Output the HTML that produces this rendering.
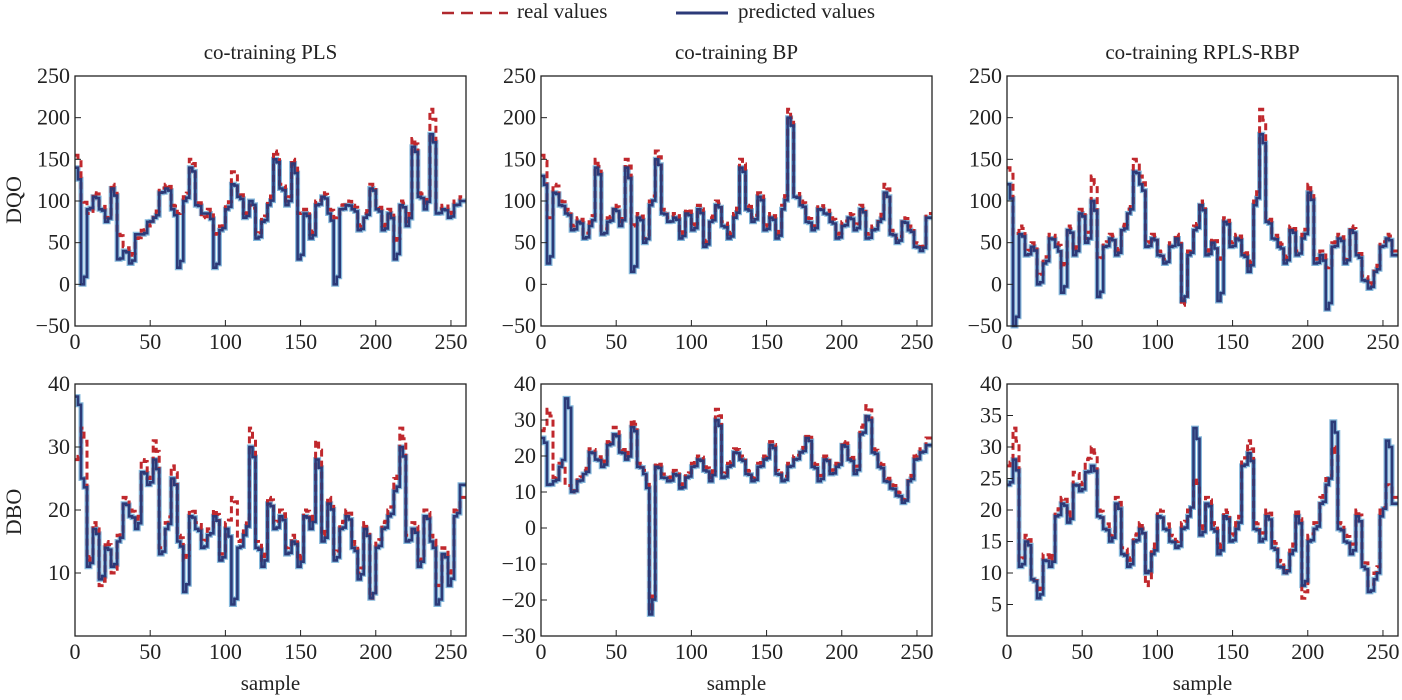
<!DOCTYPE html>
<html><head><meta charset="utf-8"><style>
body{margin:0;background:#fff;width:1402px;height:695px;overflow:hidden}
svg{font-family:"Liberation Serif",serif}
</style></head><body>
<svg id="c" width="1402" height="695"></svg>
<script>
const xTicks=[0,50,100,150,200,250];
const step=4;
const titles=["co-training PLS","co-training BP","co-training RPLS-RBP"];
const dqoTicks=[-50,0,50,100,150,200,250];
const dbo1Ticks=[10,20,30,40];
const dbo2Ticks=[-30,-20,-10,0,10,20,30,40];
const dbo3Ticks=[5,10,15,20,25,30,35,40];
const realA=[155,100,85,110,95,80,120,60,45,35,55,65,70,85,115,120,95,85,105,150,100,80,90,60,70,95,135,110,85,95,60,80,100,160,120,100,150,85,90,60,100,110,90,80,95,100,95,70,85,120,95,70,90,50,100,75,175,110,95,210,90,95,85,100,105];
const predA=[140,0,90,105,90,75,115,30,40,25,60,60,75,80,110,115,90,20,100,140,95,85,85,20,65,90,120,105,80,100,55,75,95,150,115,95,145,30,85,55,95,105,85,0,90,95,90,65,80,115,90,65,85,30,95,70,165,105,90,180,85,90,80,95,100];
const realB=[155,80,120,100,90,70,80,60,75,150,65,80,95,75,150,70,85,55,100,160,90,80,85,60,90,70,95,50,80,100,75,60,85,150,95,80,110,70,85,60,95,210,110,100,80,70,95,90,80,60,75,85,70,95,60,70,80,120,65,55,80,70,50,45,85];
const predB=[130,25,110,95,85,65,75,55,70,140,60,75,90,70,140,15,80,50,95,150,85,75,80,55,85,65,90,45,75,95,70,55,80,140,90,75,105,65,80,55,90,200,105,95,75,65,90,85,75,55,70,80,65,90,55,65,75,110,60,50,75,65,45,40,80];
const realC=[140,60,70,40,50,10,30,60,50,20,70,40,90,55,130,30,50,60,40,70,90,150,130,50,60,40,30,50,60,-25,40,70,100,40,55,30,80,50,60,40,20,100,210,80,60,50,30,70,40,60,120,30,40,20,50,60,30,70,40,10,0,20,50,60,40];
const predC=[120,-50,60,35,45,0,25,55,45,-10,65,35,85,50,100,-15,45,55,35,65,85,135,120,45,55,35,25,45,55,-20,35,65,95,35,50,-20,75,45,55,35,15,95,180,75,55,45,25,65,35,55,110,25,35,-30,45,55,25,65,35,5,-5,15,45,55,35];
const realD=[28,33,12,18,8,15,10,16,22,20,18,28,25,31,14,18,27,16,12,20,18,15,17,20,13,18,22,15,17,33,15,12,22,18,20,14,16,12,20,18,31,16,22,13,18,20,15,10,18,6,15,18,20,25,33,16,18,12,20,16,8,14,10,20,22];
const predD=[38,25,11,17,9,14,11,15,21,19,17,26,24,28,13,17,25,15,7,19,17,14,16,19,12,17,5,14,16,30,14,11,21,17,19,13,15,11,19,17,28,15,21,12,17,19,14,9,17,6,14,17,19,23,30,15,17,11,19,15,5,13,8,19,24];
const realE=[27,33,14,18,12,10,14,16,22,20,18,24,28,22,20,30,18,16,-23,18,15,14,16,12,15,18,20,17,14,33,15,18,22,20,16,14,18,20,24,16,14,18,20,22,26,18,14,20,16,18,24,20,16,28,34,22,18,14,12,10,8,14,20,22,25];
const predE=[25,12,13,17,36,10,13,15,21,19,17,23,26,21,19,28,17,15,-24,17,14,13,15,11,14,17,19,16,13,30,14,17,21,19,15,13,17,19,23,15,13,17,19,21,25,17,13,19,15,17,23,19,15,26,31,21,17,13,11,9,7,13,19,21,23];
const realF=[27,33,12,16,9,7,13,12,20,22,19,26,24,28,30,20,18,16,22,14,12,16,18,8,14,20,18,16,15,18,20,25,17,22,18,14,20,16,18,28,31,18,16,20,15,12,10,14,20,6,16,18,22,25,30,18,16,14,20,12,8,10,20,24,22];
const predF=[24,28,11,15,9,6,12,11,19,21,18,24,23,26,27,19,17,15,21,13,11,15,17,10,13,19,17,15,14,17,19,33,16,21,17,13,19,15,17,27,29,17,15,19,14,11,10,13,19,8,15,17,21,24,34,17,15,13,19,11,7,9,19,31,21];
const panels=[
 {l:75,t:76,b:326,min:-50,max:250,ticks:dqoTicks,real:realA,pred:predA,n:"dqo-pls"},
 {l:541,t:76,b:326,min:-50,max:250,ticks:dqoTicks,real:realB,pred:predB,n:"dqo-bp"},
 {l:1007,t:76,b:326,min:-50,max:250,ticks:dqoTicks,real:realC,pred:predC,n:"dqo-rpls-rbp"},
 {l:75,t:384,b:636,min:0,max:40,ticks:dbo1Ticks,real:realD,pred:predD,n:"dbo-pls"},
 {l:541,t:384,b:636,min:-30,max:40,ticks:dbo2Ticks,real:realE,pred:predE,n:"dbo-bp"},
 {l:1007,t:384,b:636,min:0,max:40,ticks:dbo3Ticks,real:realF,pred:predF,n:"dbo-rpls-rbp"}];
const W=391,NS="http://www.w3.org/2000/svg",svg=document.getElementById("c");
function mk(tag,at,parent,txt){const e=document.createElementNS(NS,tag);for(const k in at)e.setAttribute(k,at[k]);if(txt!==undefined)e.textContent=txt;(parent||svg).appendChild(e);return e;}
panels.forEach((p,pi)=>{
 const g=mk("g",{});
 
 
 const xs=v=>p.l+v*(W/260), ys=v=>p.b-(v-p.min)/(p.max-p.min)*(p.b-p.t);
 // staircase: each value held over its sample window, with a mid-window dip to neighbour mean for texture
 const pts=a=>{let s=[];a.forEach((v,i)=>{const x0=xs(i*step),x1=xs(Math.min((i+1)*step,260));
   const y=ys(v);s.push(x0.toFixed(1)+","+y.toFixed(1));
   const nb=i+1<a.length?a[i+1]:v;const xm=(x0+x1)/2;
   s.push(xm.toFixed(1)+","+y.toFixed(1));
   s.push(xm.toFixed(1)+","+ys((v+nb)/2+(v-nb)*0.4).toFixed(1));
   s.push(x1.toFixed(1)+","+ys((v+nb)/2+(v-nb)*0.4).toFixed(1));});return s.join(" ");};
 const lb=mk("polyline",{points:pts(p.pred),fill:"none",stroke:"#86b9dc","stroke-width":5},g);
 
 
 const rl=mk("polyline",{points:pts(p.real),fill:"none",stroke:"#c0282d","stroke-width":3,"stroke-dasharray":"7,4"},g);
 
 
 const pl=mk("polyline",{points:pts(p.pred),fill:"none",stroke:"#2c3a78","stroke-width":2.6},g);
 
 
 const fr=mk("rect",{x:p.l,y:p.t,width:W,height:p.b-p.t,fill:"none",stroke:"#222","stroke-width":1.3},g);
 
 
 p.ticks.forEach(v=>{const y=ys(v);
  mk("line",{x1:p.l,x2:p.l+6,y1:y,y2:y,stroke:"#222"},g);
  const t=mk("text",{x:p.l-5,y:y+7,"text-anchor":"end","font-size":22,fill:"#222"},g,v<0?"\u2212"+(-v):v);
  
  });
 xTicks.forEach(v=>{const x=xs(v);
  mk("line",{x1:x,x2:x,y1:p.b,y2:p.b-6,stroke:"#222"},g);
  const t=mk("text",{x:x,y:p.b+23,"text-anchor":"middle","font-size":22,fill:"#222"},g,v);
  
  });
 if(pi<3){const t=mk("text",{x:p.l+W/2,y:59,"text-anchor":"middle","font-size":21,fill:"#222"},g,titles[pi]);
  
  }
 else{const t=mk("text",{x:p.l+W/2,y:690,"text-anchor":"middle","font-size":21,fill:"#222"},g,"sample");
  
  }
});
[["DQO",200],["DBO",512]].forEach(([s,y])=>{const t=mk("text",{x:0,y:0,transform:`translate(21,${y}) rotate(-90)`,"text-anchor":"middle","font-size":22,fill:"#222"},svg,s);
 
 });
const lg=mk("g",{});


mk("line",{x1:442,x2:508,y1:13,y2:13,stroke:"#b0282d","stroke-width":2.5,"stroke-dasharray":"12,7"},lg);
const l1=mk("text",{x:517,y:18,"font-size":21,fill:"#222"},lg,"real values");


mk("line",{x1:676,x2:728,y1:13,y2:13,stroke:"#2c3a78","stroke-width":3},lg);
const l2=mk("text",{x:738,y:18,"font-size":21,fill:"#222"},lg,"predicted values");


</script>
</body></html>
